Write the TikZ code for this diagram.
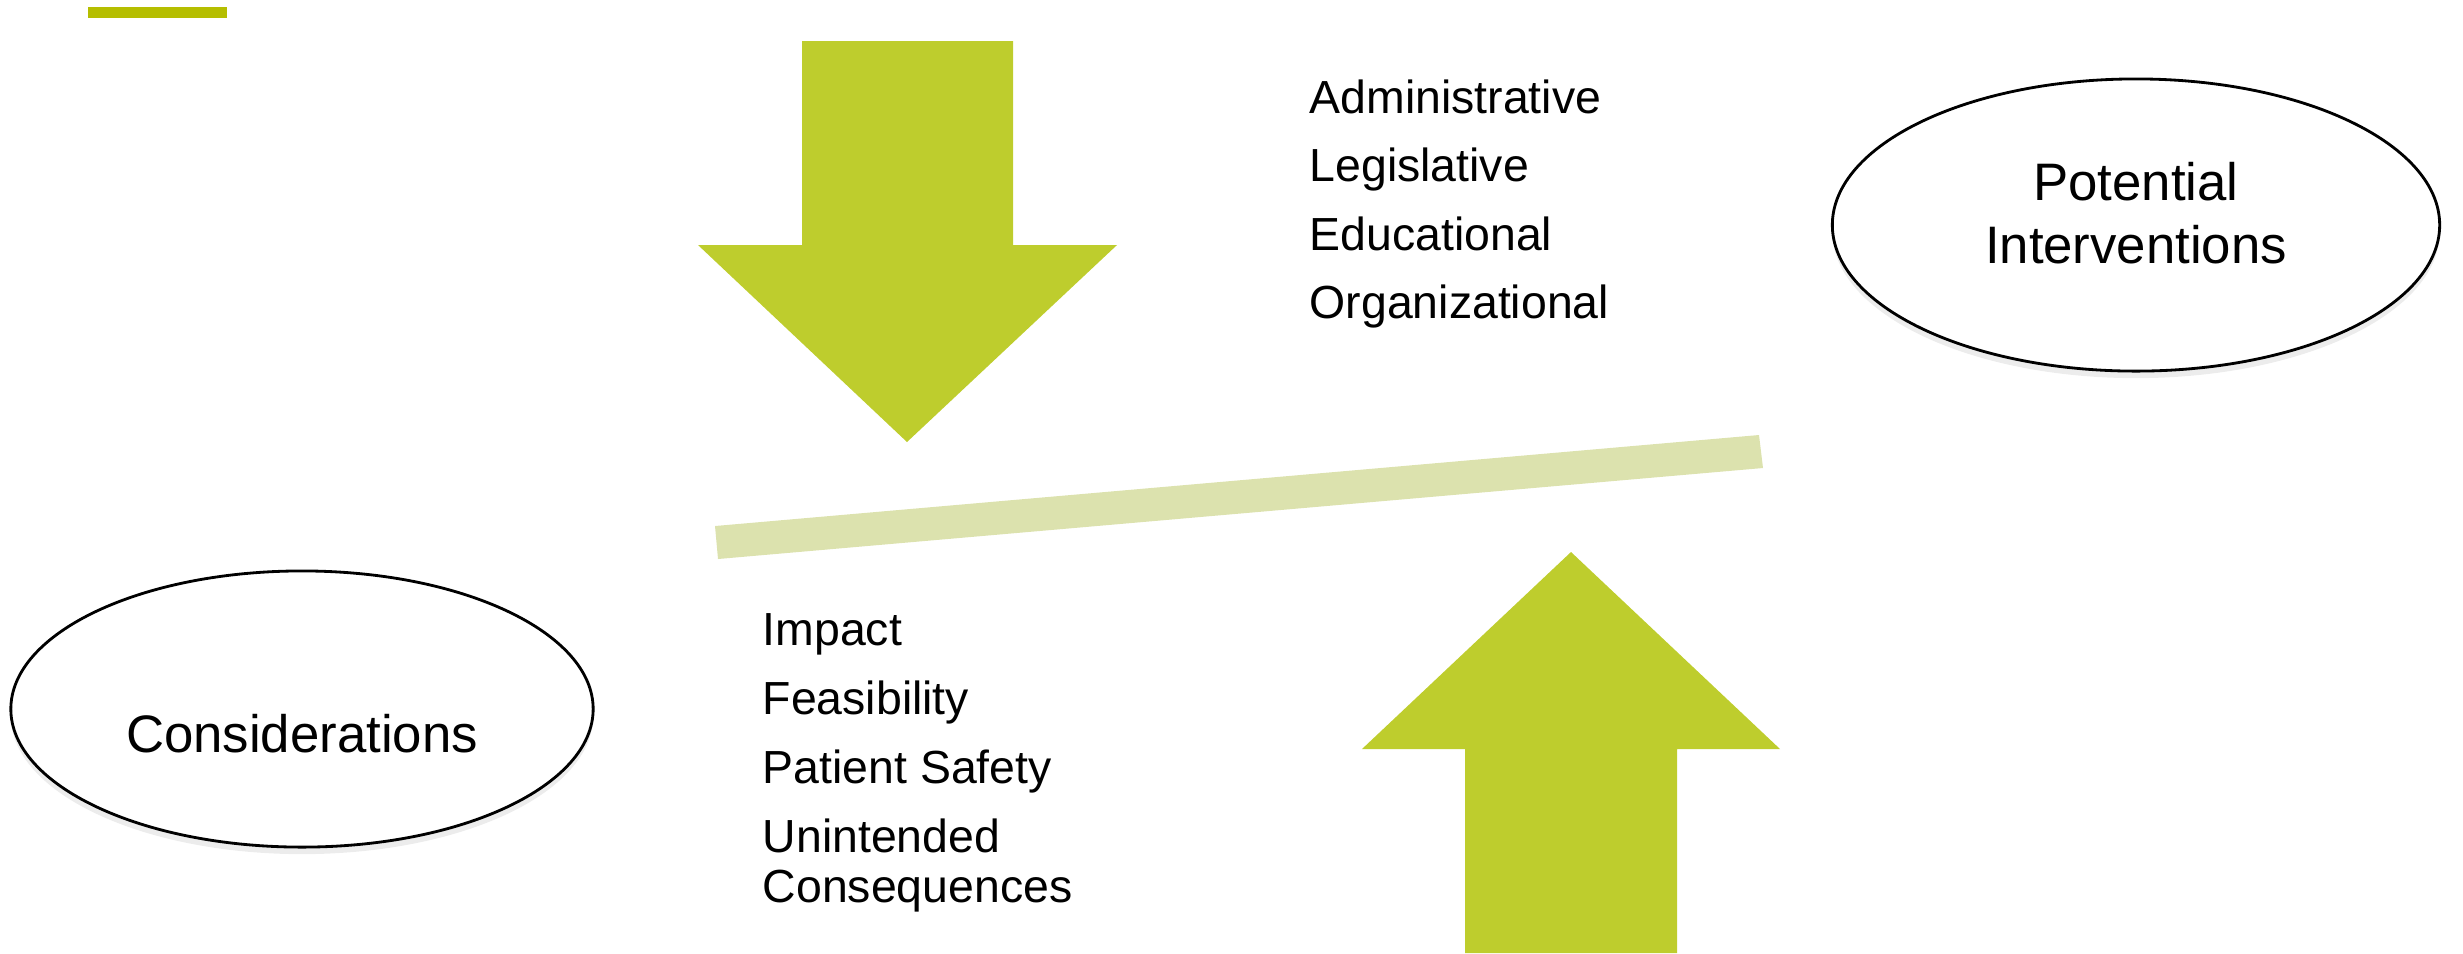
\documentclass[tikz,border=0pt]{standalone}
\usepackage{fontspec}
\setmainfont{Liberation Sans}
\usetikzlibrary{positioning, shapes.geometric, shadows}

\definecolor{arrowgreen}{RGB}{190,205,45}
\definecolor{beamgreen}{RGB}{220,226,174}
\definecolor{topgreen}{RGB}{181,190,0}

\tikzset{
  oval/.style={ellipse, draw=black, line width=0.8pt, fill=white,
    drop shadow={opacity=0.15, shadow xshift=0pt, shadow yshift=-2pt}},
  ovaltext/.style={font=\fontsize{15}{18}\selectfont, anchor=base, inner sep=0pt},
  item/.style={font=\fontsize{13.2}{15}\selectfont, anchor=base west, inner sep=0pt},
}

\begin{document}
\begin{tikzpicture}[x=0.01cm, y=-0.01cm]
\useasboundingbox (0,0) rectangle (2463,953);

\fill[topgreen] (88,7) rectangle (227,18);

% arrows
\fill[arrowgreen] (802,41) -- (1013,41) -- (1013,245) -- (1117,245)
    -- (907,442) -- (698,245) -- (802,245) -- cycle;
\fill[arrowgreen] (1465,953) -- (1677,953) -- (1677,749) -- (1780,749)
    -- (1571,552) -- (1362,749) -- (1465,749) -- cycle;

% beam
\fill[beamgreen] (715,526) -- (1759,435) -- (1763,468) -- (718,559) -- cycle;

\node[oval, minimum width=5.82cm, minimum height=2.76cm] (consider) at (302,709) {};
\node[ovaltext] (considertxt) at (302,752) {Considerations};

\node[oval, minimum width=6.07cm, minimum height=2.92cm] (interv) at (2136,225) {};
\node[ovaltext] (intervtxt1) at (2136,200) {Potential};
\node[ovaltext] (intervtxt2) at (2136,263) {Interventions};

\node[item] (admin) at (1309,113) {Administrative};
\node[item] (legis) at (1309,181) {Legislative};
\node[item] (educ) at (1309,250) {Educational};
\node[item] (organ) at (1309,318) {Organizational};

\node[item] (impact) at (762,645) {Impact};
\node[item] (feas) at (762,714) {Feasibility};
\node[item] (safety) at (762,783) {Patient Safety};
\node[item] (unint) at (762,852) {Unintended};
\node[item] (conseq) at (762,902) {Consequences};
\end{tikzpicture}
\end{document}
